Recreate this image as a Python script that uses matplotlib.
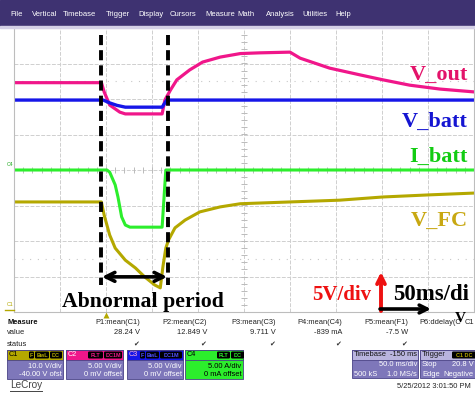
import matplotlib
matplotlib.use('Agg')
import matplotlib.pyplot as plt
import numpy as np
from matplotlib.patches import Rectangle, FancyBboxPatch

# time on screen in ms (50 ms/div), level in divisions from screen centre
vout_t = [-100, -5, -2, 4, 15, 21, 61, 64, 70, 77, 91, 105, 124, 146, 167, 200, 211, 243, 276, 301, 330, 363, 400]
vout_v = [2.46, 2.46, 2.20, 1.83, 1.63, 1.58, 1.58, 1.97, 2.25, 2.54, 2.82, 3.04, 3.18, 3.28, 3.30, 3.32, 3.15, 2.87, 2.68, 2.54, 2.39, 2.28, 2.20]

vbatt_t = [-100, -3, 4, 12, 21, 61, 66, 400]
vbatt_v = [1.97, 1.97, 1.89, 1.82, 1.77, 1.77, 1.97, 1.97]

ibatt_t = [-100, 1, 4, 10, 13, 17, 21, 26, 61, 65, 400]
ibatt_v = [0.0, 0.0, -0.06, -0.42, -0.76, -1.32, -1.55, -1.61, -1.61, 0.0, 0.0]

vfc_t = [-100, -5, -2, 1, 4, 10, 21, 32, 42, 53, 59, 62, 65, 68, 75, 86, 102, 124, 146, 200, 254, 301, 352, 400]
vfc_v = [-0.90, -0.90, -1.27, -1.55, -1.83, -2.20, -2.54, -2.76, -3.01, -3.24, -3.32, -2.70, -2.20, -1.97,
         -1.63, -1.41, -1.18, -1.04, -0.95, -0.90, -0.85, -0.76, -0.70, -0.65]

abnormal = [-5.4, 67.4]

menu_items = ['File', 'Vertical', 'Timebase', 'Trigger', 'Display', 'Cursors', 'Measure', 'Math',
              'Analysis', 'Utilities', 'Help']
menu_x = [10, 32, 63, 106, 138, 170, 205, 237, 266, 302, 335]

meas_names = ['P1:mean(C1)', 'P2:mean(C2)', 'P3:mean(C3)', 'P4:mean(C4)', 'P5:mean(F1)']
meas_values = ['28.24 V', '12.849 V', '9.711 V', '-839 mA', '-7.5 W']

c_pink = '#F0168A'
c_blue = '#1616E8'
c_green = '#2CEE2C'
c_olive = '#B4A800'
lav = '#7E77BA'
serif = 'Liberation Serif'
sans = 'Liberation Sans'

W, H = 475, 393
fig = plt.figure(figsize=(4.75, 3.93), dpi=100)
fig.patch.set_facecolor('white')

# ---- scope grid ----
scope = fig.add_axes([14 / W, 1 - 312 / H, 460 / W, 284 / H], zorder=2)
scope.set_xlim(-100, 400)
scope.set_ylim(-4, 4)
scope.set_xticks(np.arange(-100, 401, 50))
scope.set_yticks(np.arange(-4, 5, 1))
scope.grid(True, color='#CFCFCF', lw=0.7, ls=(0, (4, 1.5)))
scope.tick_params(length=0, labelbottom=False, labelleft=False)
for s in scope.spines.values():
    s.set_color('#BDBDBD')
for yy in [2.5, -2.5]:
    scope.axhline(yy, color='#C8C8C8', lw=0.8, ls=(0, (1, 6)))
scope.plot(np.full(40, 150), np.arange(-4, 4, 0.2), ls='none', marker='_', ms=4, color='#BBBBBB', mew=0.7)
scope.plot(np.arange(-100, 400, 10), np.zeros(50), ls='none', marker='|', ms=4, color='#BBBBBB', mew=0.7)

scope.plot(vfc_t, vfc_v, color=c_olive, lw=2.2, solid_joinstyle='round')
scope.plot(ibatt_t, ibatt_v, color=c_green, lw=2.2, solid_joinstyle='round')
scope.plot(vout_t, vout_v, color=c_pink, lw=2.3, solid_joinstyle='round')
scope.plot(vbatt_t, vbatt_v, color=c_blue, lw=2.4, solid_joinstyle='round')

for t in abnormal:
    scope.plot([t, t], [3.80, -3.24], color='black', lw=2.8, ls=(0, (2.6, 1.3)), zorder=6)
scope.annotate('', xy=(abnormal[0] + 1, -3.01), xytext=(abnormal[1] - 1, -3.01),
               arrowprops=dict(arrowstyle='<->', lw=2.6, color='black', mutation_scale=16,
                               shrinkA=0, shrinkB=0), zorder=7)

# ---- overlay in pixel coordinates ----
ui = fig.add_axes([0, 0, 1, 1], zorder=5)
ui.set_xlim(0, W)
ui.set_ylim(H, 0)
ui.axis('off')
ui.patch.set_alpha(0)

ui.add_patch(Rectangle((0, 0), W, 26, color='#3E3271'))
ui.add_patch(Rectangle((0, 26), W, 1.5, color='#D4D0E6'))
for name, x in zip(menu_items, menu_x):
    ui.text(x, 15, name, color='white', fontsize=5.5, family=sans, va='center')

big = dict(family=serif, fontweight='bold', fontsize=16, va='baseline')
ui.text(468, 80, 'V_out', color='#E3136A', ha='right', **big)
ui.text(468, 127, 'V_batt', color='#1515D2', ha='right', **big)
ui.text(468, 162, 'I_batt', color='#12CC12', ha='right', **big)
ui.text(468, 226, 'V_FC', color='#C8A812', ha='right', **big)
ui.text(143, 307, 'Abnormal period', color='black', ha='center', family=serif, fontweight='bold',
        fontsize=15.7, va='baseline')
ui.text(342, 300, '5V/div', color='#EE1111', ha='center', family=serif, fontweight='bold',
        fontsize=15, va='baseline')
ui.text(393, 300, '50ms/di', color='black', ha='left', family=serif, fontweight='bold',
        fontsize=16.5, va='baseline')

ui.annotate('', xy=(381, 272), xytext=(381, 311),
            arrowprops=dict(arrowstyle='->', lw=2.8, color='#EE1111', mutation_scale=14, shrinkA=0, shrinkB=0))
ui.annotate('', xy=(431, 309), xytext=(380, 309),
            arrowprops=dict(arrowstyle='->', lw=2.6, color='black', mutation_scale=14, shrinkA=0, shrinkB=0))

# channel markers at left
ui.text(7, 165, 'C4', color='#22AA22', fontsize=3.8, family=sans, va='center')
ui.text(7, 305, 'C1', color=c_olive, fontsize=3.8, family=sans, va='center')
ui.plot([5, 14], [310, 310], color=c_olive, lw=1)
ui.plot([106], [314.5], marker='^', ms=4, color=c_olive, mec='none')

# ---- measure table ----
fs = 5.4
ui.text(7, 322, 'Measure', fontsize=fs, family=sans, fontweight='bold', va='center', color='#111')
ui.text(7, 333, 'value', fontsize=fs, family=sans, va='center', color='#222')
ui.text(7, 344, 'status', fontsize=fs, family=sans, va='center', color='#222')
meas_right = [140, 207, 276, 342, 408]
for name, val, xr in zip(meas_names, meas_values, meas_right):
    ui.text(xr, 322, name, fontsize=fs, family=sans, ha='right', va='center', color='#222')
    ui.text(xr, 333, val, fontsize=fs, family=sans, ha='right', va='center', color='#222')
    ui.text(xr - 4, 344, '\u2714', fontsize=5, family='DejaVu Sans', ha='center', va='center', color='#333')
ui.text(419, 322, 'P6:ddelay(C', fontsize=fs, family=sans, ha='left', va='center', color='#222')
ui.text(465, 322, 'C1', fontsize=fs, family=sans, ha='left', va='center', color='#222')
ui.text(460, 319, 'V', fontsize=11, family=serif, fontweight='bold', ha='center', va='center', color='black')


def chan_box(x0, x1, strip, name, name_col, badges, lines, body, txt_col, badge_col):
    ui.add_patch(Rectangle((x0, 350), x1 - x0, 29, facecolor=body, edgecolor='#4A4386', lw=0.6))
    ui.add_patch(Rectangle((x0, 350), x1 - x0, 10, facecolor=strip, edgecolor='#4A4386', lw=0.6))
    ui.text(x0 + 2, 355, name, fontsize=5.2, family=sans, va='center', color=name_col)
    for (bx0, bx1, lab) in badges:
        ui.add_patch(FancyBboxPatch((bx0, 351.5), bx1 - bx0, 7, boxstyle='round,pad=0,rounding_size=1.2',
                                    facecolor='black', edgecolor='none'))
        ui.text((bx0 + bx1) / 2, 355.2, lab, fontsize=4.0, family=sans, fontweight='bold',
                ha='center', va='center', color=badge_col)
    ui.text(x1 - 1.5, 366, lines[0], fontsize=fs, family=sans, ha='right', va='center', color=txt_col)
    ui.text(x1 - 1.5, 374.5, lines[1], fontsize=fs, family=sans, ha='right', va='center', color=txt_col)


chan_box(7, 63, c_olive, 'C1', 'black', [(29, 34, 'F'), (35, 49, 'BwL'), (50, 62, 'DC')],
         ['10.0 V/div', '-40.00 V ofst'], lav, 'white', c_olive)
chan_box(66, 123, c_pink, 'C2', 'white', [(88, 103, 'FLT'), (104, 122, 'DC1M')],
         ['5.00 V/div', '0 mV offset'], lav, 'white', c_pink)
chan_box(127, 183, c_blue, 'C3', '#FFB0D0', [(140, 145, 'F'), (146, 159, 'BwL'), (160, 182, 'DC1M')],
         ['5.00 V/div', '0 mV offset'], lav, 'white', '#5050FF')
chan_box(185, 243, c_green, 'C4', 'black', [(217, 230, 'FLT'), (231, 244, 'DC')],
         ['5.00 A/div', '0 mA offset'], c_green, 'black', c_green)

# timebase box
ui.add_patch(Rectangle((352, 350), 66, 28, facecolor=lav, edgecolor='#4A4386', lw=0.6))
ui.add_patch(Rectangle((352, 350), 66, 9.5, facecolor='#B9B4DE', edgecolor='#4A4386', lw=0.6))
ui.text(354, 355, 'Timebase', fontsize=fs, family=sans, va='center', color='#111')
ui.text(417, 355, '-150 ms', fontsize=fs, family=sans, ha='right', va='center', color='#111')
ui.text(417, 365, '50.0 ms/div', fontsize=fs, family=sans, ha='right', va='center', color='white')
ui.text(354, 374, '500 kS', fontsize=fs, family=sans, va='center', color='white')
ui.text(417, 374, '1.0 MS/s', fontsize=fs, family=sans, ha='right', va='center', color='white')

# trigger box
ui.add_patch(Rectangle((420, 350), 58, 28, facecolor=lav, edgecolor='#4A4386', lw=0.6))
ui.add_patch(Rectangle((420, 350), 58, 9.5, facecolor='#B9B4DE', edgecolor='#4A4386', lw=0.6))
ui.text(422, 355, 'Trigger', fontsize=fs, family=sans, va='center', color='#111')
ui.add_patch(FancyBboxPatch((452, 351.5), 25, 7, boxstyle='round,pad=0,rounding_size=1.2',
                            facecolor='black', edgecolor='none'))
ui.text(464, 355.2, 'C1 DC', fontsize=4.0, family=sans, fontweight='bold', ha='center', va='center',
        color=c_olive)
ui.text(422, 365, 'Stop', fontsize=fs, family=sans, va='center', color='white')
ui.text(474, 365, '20.8 V', fontsize=fs, family=sans, ha='right', va='center', color='white')
ui.text(422, 374, 'Edge', fontsize=fs, family=sans, va='center', color='white')
ui.text(474, 374, 'Negative', fontsize=fs, family=sans, ha='right', va='center', color='white')

ui.text(471, 387, '5/25/2012 3:01:50 PM', fontsize=fs, family=sans, ha='right', va='center', color='#222')
ui.text(10, 385, 'LeCroy', fontsize=7.2, family=sans, va='center', color='#444')
ui.plot([10, 42], [390.5, 390.5], color='#444', lw=0.7)

fig.savefig('out.png', dpi=100)
